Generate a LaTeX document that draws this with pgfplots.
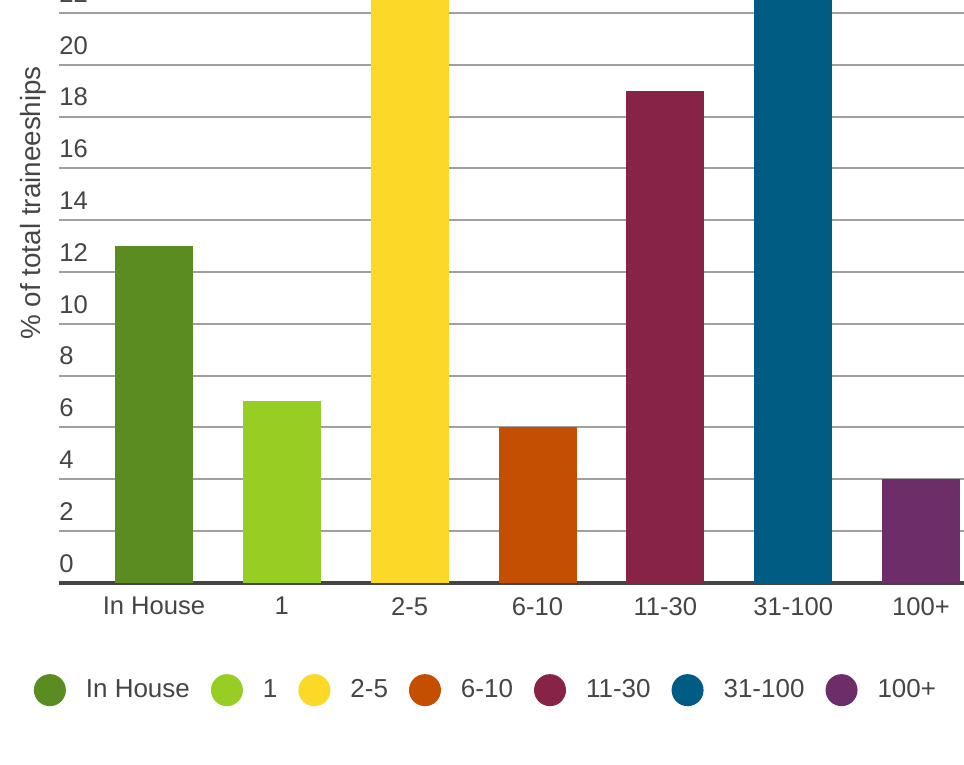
\documentclass[border=0pt]{standalone}
\usepackage{pgfplots}
\pgfplotsset{compat=1.18}
\usepackage{fontspec}
\setmainfont{Liberation Sans}

\definecolor{cInHouse}{HTML}{5B8C22}
\definecolor{cOne}{HTML}{97CE23}
\definecolor{cTwoFive}{HTML}{FCD827}
\definecolor{cSixTen}{HTML}{C44F00}
\definecolor{cElevenThirty}{HTML}{872346}
\definecolor{cThirtyOne}{HTML}{005C82}
\definecolor{cHundred}{HTML}{6C2D69}
\definecolor{txt}{HTML}{454545}
\definecolor{gridc}{HTML}{A0A0A0}
\definecolor{axc}{HTML}{444444}

\pgfplotsset{
  mybar/.style={ybar, bar width=39pt, bar shift=0pt, draw=none, fill=#1,
    legend image code/.code={\fill[fill=#1] (8pt,0pt) circle (8pt);}},
}

\begin{document}
\begin{tikzpicture}
\begin{axis}[
  scale only axis,
  width=452.5pt, height=291.4pt,
  xmin=-0.743, xmax=6.336,
  ymin=0, ymax=22.5,
  axis lines*=left,
  y axis line style={draw=none},
  x axis line style={draw=axc, line width=1.75pt},
  xtick={0,...,6},
  xticklabels={In House,1,2-5,6-10,11-30,31-100,100+},
  ytick={0,2,...,22},
  major tick length=0pt,
  ymajorgrids,
  major grid style={draw=gridc, line width=1pt},
  tick label style={font=\fontsize{12.8}{15}\selectfont, text=txt},
  /pgf/number format/assume math mode=true,
  xticklabel style={anchor=north, inner sep=0pt, yshift=-7pt},
  yticklabel style={anchor=south west, inner sep=0pt, yshift=5pt},
  ylabel={\% of total traineeships},
  ylabel style={at={(rel axis cs:-0.0287,0.652)}, anchor=center,
    font=\fontsize{13.9}{16}\selectfont, text=txt},
  legend columns=7,
  legend style={draw=none, fill=none, at={(rel axis cs:0.4707,-0.1842)},
    anchor=center, inner sep=0pt, font=\fontsize{13}{15}\selectfont,
    text=txt, nodes={inner sep=0pt},
    /tikz/every odd column/.append style={column sep=10pt},
    /tikz/every even column/.append style={column sep=10.5pt}},
]
\addplot[mybar=cInHouse] coordinates {(0,13)};
\addlegendentry{In House}
\addplot[mybar=cOne] coordinates {(1,7)};
\addlegendentry{1}
\addplot[mybar=cTwoFive] coordinates {(2,25)};
\addlegendentry{2-5}
\addplot[mybar=cSixTen] coordinates {(3,6)};
\addlegendentry{6-10}
\addplot[mybar=cElevenThirty] coordinates {(4,19)};
\addlegendentry{11-30}
\addplot[mybar=cThirtyOne] coordinates {(5,25)};
\addlegendentry{31-100}
\addplot[mybar=cHundred] coordinates {(6,4)};
\addlegendentry{100+}
\end{axis}
\pgfresetboundingbox
\path[use as bounding box] ([xshift=-29.5pt,yshift=-90.75pt]current axis.south west) rectangle (current axis.north east);
\end{tikzpicture}
\end{document}
